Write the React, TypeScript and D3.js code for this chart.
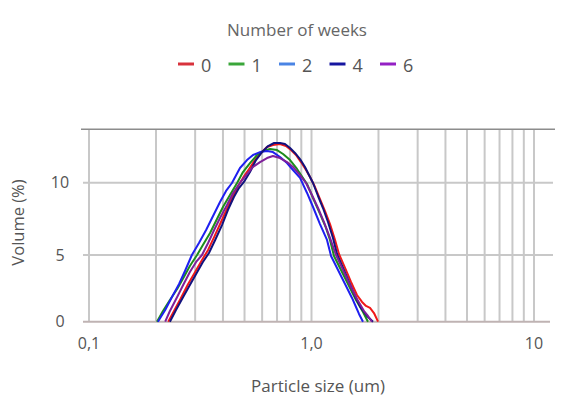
import React from 'react';
import * as d3 from 'd3';

// legend / series
const weeks = ['0', '1', '2', '4', '6'];
const lineColors = ['#f01818', '#1c8c1c', '#1f1ff0', '#12127e', '#7e1f9a'];
const legendColors = ['#d8323c', '#3aa63a', '#4a84e4', '#1616a0', '#9420c4'];

// [particle size (um), volume (%)]
const week0: [number, number][] = [
  [0.227, 0], [0.241, 0.8], [0.259, 1.78], [0.279, 2.83], [0.3, 3.73], [0.322, 4.63], [0.343, 5.35],
  [0.365, 6.24], [0.392, 7.28], [0.417, 8.18], [0.444, 9.08], [0.468, 9.77], [0.492, 10.33], [0.524, 10.95],
  [0.557, 11.57], [0.593, 12.06], [0.631, 12.47], [0.671, 12.61], [0.722, 12.68], [0.768, 12.54], [0.809, 12.26],
  [0.852, 11.92], [0.897, 11.43], [0.945, 10.88], [0.985, 10.39], [1.037, 9.7], [1.092, 8.87], [1.15, 8.04],
  [1.211, 7.14], [1.276, 6.04], [1.329, 5.07], [1.415, 4.03], [1.505, 2.98], [1.601, 2.0], [1.687, 1.48],
  [1.758, 1.18], [1.832, 1.03], [1.909, 0.65], [1.991, 0],
];
const week1: [number, number][] = [
  [0.202, 0], [0.215, 0.8], [0.231, 1.63], [0.249, 2.45], [0.267, 3.35], [0.284, 4.18], [0.306, 5.0],
  [0.325, 5.69], [0.35, 6.52], [0.376, 7.49], [0.4, 8.32], [0.43, 9.15], [0.463, 9.98], [0.492, 10.74],
  [0.529, 11.36], [0.569, 11.92], [0.605, 12.19], [0.651, 12.33], [0.7, 12.26], [0.745, 11.99], [0.801, 11.57],
  [0.861, 10.95], [0.916, 10.33], [0.955, 9.91], [1.016, 8.94], [1.092, 7.84], [1.162, 6.87], [1.211, 6.04],
  [1.262, 4.93], [1.357, 3.88], [1.459, 2.83], [1.585, 1.63], [1.704, 0.73], [1.794, 0],
];
const week2: [number, number][] = [
  [0.204, 0], [0.22, 0.88], [0.236, 1.85], [0.254, 2.83], [0.27, 3.8], [0.29, 5.0], [0.312, 5.83],
  [0.336, 6.73], [0.361, 7.7], [0.388, 8.67], [0.413, 9.43], [0.439, 9.98], [0.477, 11.02], [0.513, 11.57],
  [0.546, 11.92], [0.587, 12.12], [0.631, 12.19], [0.671, 12.12], [0.722, 11.78], [0.776, 11.36], [0.826, 10.88],
  [0.888, 10.33], [0.955, 9.29], [1.016, 8.32], [1.092, 7.14], [1.174, 6.04], [1.224, 4.93], [1.316, 3.88],
  [1.415, 2.83], [1.521, 1.78], [1.585, 1.1], [1.635, 0.58], [1.704, 0],
];
const week4: [number, number][] = [
  [0.231, 0], [0.246, 0.88], [0.265, 1.85], [0.284, 2.75], [0.303, 3.58], [0.325, 4.48], [0.346, 5.14],
  [0.369, 6.04], [0.396, 7.07], [0.421, 8.11], [0.448, 9.01], [0.472, 9.63], [0.497, 10.05], [0.529, 10.74],
  [0.563, 11.57], [0.599, 12.12], [0.638, 12.54], [0.679, 12.75], [0.722, 12.75], [0.76, 12.68], [0.801, 12.4],
  [0.843, 12.06], [0.888, 11.64], [0.935, 11.09], [0.974, 10.53], [1.016, 9.98], [1.07, 9.08], [1.126, 8.25],
  [1.186, 7.28], [1.249, 6.18], [1.302, 5.07], [1.386, 4.03], [1.474, 2.98], [1.569, 1.93], [1.669, 1.03],
  [1.776, 0.43], [1.89, 0],
];
const week6: [number, number][] = [
  [0.22, 0], [0.231, 0.8], [0.249, 1.85], [0.265, 2.75], [0.284, 3.73], [0.303, 4.48], [0.322, 5.0],
  [0.343, 5.83], [0.365, 6.73], [0.388, 7.56], [0.417, 8.46], [0.444, 9.29], [0.477, 9.98], [0.513, 10.6],
  [0.546, 11.09], [0.587, 11.43], [0.631, 11.71], [0.671, 11.85], [0.722, 11.71], [0.776, 11.43], [0.826, 11.09],
  [0.888, 10.53], [0.945, 9.98], [1.005, 9.15], [1.07, 8.25], [1.138, 7.28], [1.211, 6.18], [1.289, 5.0],
  [1.385, 3.88], [1.49, 2.75], [1.601, 1.7], [1.722, 0.8], [1.794, 0.43], [1.87, 0],
];
const series = [week0, week1, week2, week4, week6];

const yTicks = [0, 5, 10];
const xTickValues = [0.1, 1, 10];
const xTickLabels = ['0,1', '1,0', '10'];

const W = 577;
const H = 406;
const FONT = "'Open Sans', sans-serif";

export default function App() {
  const x = d3.scaleLog().domain([0.1, 10]).range([89, 534]);
  // the source chart's value axis is not quite evenly spaced
  const y = d3.scaleLinear().domain([0, 5, 10, 13.7]).range([321.7, 255, 182.7, 129.3]);

  const grid = d3.range(1, 10).map(d => d / 10).concat(d3.range(1, 11));
  const line = d3.line<[number, number]>()
    .x(d => x(d[0]))
    .y(d => y(d[1]));

  return (
    <svg width={W} height={H} style={{ position: 'absolute', left: 0, top: 0, background: '#fff' }} fontFamily={FONT}>
      <text x={297} y={36} textAnchor="middle" fontSize={17} fill="#666">Number of weeks</text>
      {weeks.map((w, i) => {
        const lx = 178 + i * 50.5;
        return (
          <g key={w}>
            <line x1={lx} x2={lx + 16} y1={64} y2={64} stroke={legendColors[i]} strokeWidth={3} />
            <text x={lx + 23} y={72} fontSize={18} fill="#555">{w}</text>
          </g>
        );
      })}

      {grid.map(g => (
        <line key={g} x1={x(g)} x2={x(g)} y1={y(13.7)} y2={y(0)} stroke="#c8c8c8" strokeWidth={2} />
      ))}
      {yTicks.filter(t => t > 0).map(t => (
        <line key={t} x1={83} x2={553} y1={y(t)} y2={y(t)} stroke="#c8c8c8" strokeWidth={2} />
      ))}
      <line x1={81} x2={555} y1={y(13.7)} y2={y(13.7)} stroke="#8c8c8c" strokeWidth={1.5} />
      <line x1={83} x2={550} y1={y(0)} y2={y(0)} stroke="#bfb3b3" strokeWidth={2} />

      {series.map((s, i) => (
        <path key={weeks[i]} d={line(s) || ''} fill="none" stroke={lineColors[i]} strokeWidth={2} strokeLinejoin="round" />
      ))}

      {yTicks.map(t => (
        <text key={t} x={60} y={y(t)} dy="0.35em" textAnchor="middle" fontSize={16} fill="#555">{t}</text>
      ))}
      {xTickValues.map((v, i) => (
        <text key={v} x={x(v)} y={349} textAnchor="middle" fontSize={16} fill="#555">{xTickLabels[i]}</text>
      ))}
      <text transform={`translate(24,${(y(0) + y(13.7)) / 2 - 3}) rotate(-90)`} textAnchor="middle" fontSize={16.5} fill="#555">Volume (%)</text>
      <text x={318} y={392} textAnchor="middle" fontSize={17} fill="#555">Particle size (um)</text>
    </svg>
  );
}
